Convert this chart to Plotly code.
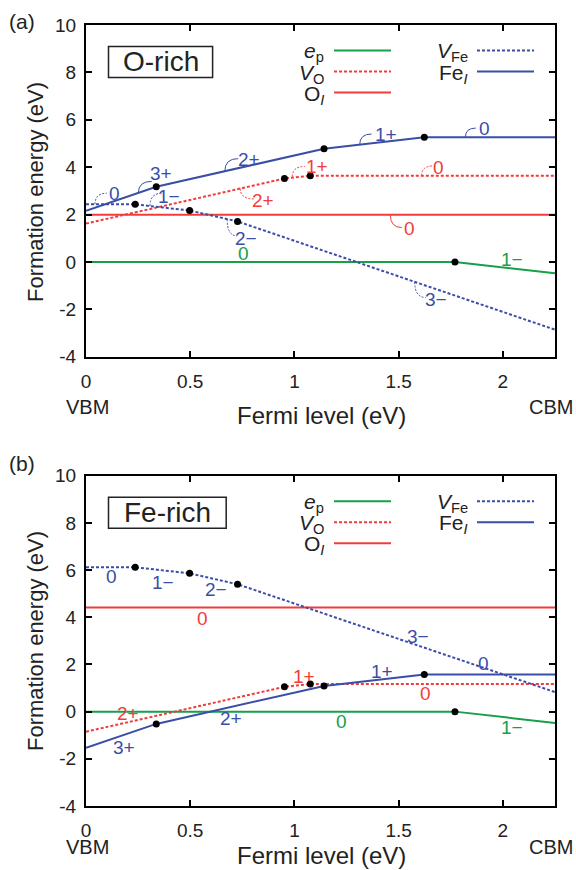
import plotly.graph_objects as go

# ---------------- data ----------------
GREEN = '#16a04a'
RED = '#f23c3c'
BLUE = '#3a4ea8'

ep_x = [0, 1.77, 2.25]
ep_y = {'O': [0, 0, -0.48], 'Fe': [0, 0, -0.48]}
ep_dots = [1]

vo_x = [0, 0.952, 1.076, 2.25]
vo_y = {'O': [1.62, 3.52, 3.64, 3.64], 'Fe': [-0.85, 1.05, 1.17, 1.17]}
vo_dots = [1, 2]

oi_x = [0, 2.25]
oi_y = {'O': [1.99, 1.99], 'Fe': [4.41, 4.41]}

vfe_x = [0, 0.236, 0.497, 0.727, 2.25]
vfe_y = {'O': [2.43, 2.43, 2.17, 1.71, -2.86], 'Fe': [6.12, 6.12, 5.86, 5.40, 0.83]}
vfe_dots = [1, 2, 3]

fei_x = [0, 0.337, 1.142, 1.623, 2.25]
fei_y = {'O': [2.16, 3.17, 4.78, 5.26, 5.26], 'Fe': [-1.53, -0.52, 1.09, 1.57, 1.57]}
fei_dots = [1, 2, 3]

# charge-state labels: (text, x, y, colour key)
labels_O = [
    ('0', 0.135, 2.90, 'B'), ('3+', 0.36, 3.72, 'B'), ('1−', 0.40, 2.78, 'B'),
    ('2+', 0.783, 4.34, 'B'), ('2+', 0.85, 2.60, 'R'), ('1+', 1.11, 4.03, 'R'),
    ('1+', 1.44, 5.39, 'B'), ('0', 1.912, 5.65, 'B'), ('0', 1.69, 4.00, 'R'),
    ('0', 1.553, 1.43, 'R'), ('2−', 0.769, 1.01, 'B'), ('0', 0.757, 0.36, 'G'),
    ('1−', 2.044, 0.10, 'G'), ('3−', 1.679, -1.59, 'B'),
]
labels_Fe = [
    ('0', 0.122, 5.71, 'B'), ('1−', 0.369, 5.46, 'B'), ('2−', 0.624, 5.18, 'B'),
    ('0', 0.559, 3.95, 'R'), ('3−', 1.594, 3.17, 'B'), ('0', 1.908, 2.04, 'B'),
    ('1+', 1.418, 1.71, 'B'), ('1+', 1.048, 1.47, 'R'), ('0', 1.63, 0.76, 'R'),
    ('2+', 0.201, -0.09, 'R'), ('2+', 0.695, -0.30, 'B'), ('0', 1.224, -0.41, 'G'),
    ('1−', 2.044, -0.68, 'G'), ('3+', 0.183, -1.53, 'B'),
]
# leader arcs in panel (a): (x_on_line, y_on_line, x_end, y_end, colour key, dashed)
leaders_O = [
    (0.043, 2.43, 0.10, 2.90, 'B', True),
    (0.251, 2.91, 0.315, 3.40, 'B', False),
    (0.307, 2.36, 0.366, 2.90, 'B', True),
    (0.666, 3.83, 0.73, 4.36, 'B', False),
    (0.74, 3.10, 0.805, 2.66, 'R', True),
    (0.99, 3.60, 1.05, 4.03, 'R', True),
    (1.313, 4.95, 1.37, 5.40, 'B', False),
    (1.82, 5.26, 1.87, 5.65, 'B', False),
    (1.61, 3.64, 1.665, 4.05, 'R', True),
    (1.46, 1.99, 1.515, 1.45, 'R', False),
    (0.677, 1.81, 0.725, 1.10, 'B', True),
    (1.577, -0.84, 1.63, -1.50, 'B', True),
]
COL = {'G': GREEN, 'R': RED, 'B': BLUE}

x_ticks = [0, 0.5, 1, 1.5, 2]
x_ticktext = ['0', '0.5', '1', '1.5', '2']
y_ticks = [-4, -2, 0, 2, 4, 6, 8, 10]
y_ticktext = ['-4', '-2', '0', '2', '4', '6', '8', '10']

# ---------------- layout geometry ----------------
W, H = 576, 870
ML, MR, MT, MB = 86, 21, 25, 64
PW = W - ML - MR
PH = H - MT - MB
TOP_PANEL = (25, 356.7)
BOT_PANEL = (475.7, 806)


def px(x):
    return (x - ML) / PW


def py(y):
    return (H - MB - y) / PH


TXT = '#222222'
FONT = 'Liberation Sans, Arial, Helvetica, sans-serif'

fig = go.Figure()
DASH = '3px,2px'


def add_panel(key, xa, ya):
    series = [
        (ep_x, ep_y[key], GREEN, 'solid', ep_dots),
        (vo_x, vo_y[key], RED, DASH, vo_dots),
        (oi_x, oi_y[key], RED, 'solid', []),
        (vfe_x, vfe_y[key], BLUE, DASH, vfe_dots),
        (fei_x, fei_y[key], BLUE, 'solid', fei_dots),
    ]
    for xs, ys, c, d, dots in series:
        fig.add_trace(go.Scatter(x=xs, y=ys, mode='lines', xaxis=xa, yaxis=ya,
                                 line=dict(color=c, width=2, dash=d),
                                 showlegend=False, hoverinfo='skip'))
    for xs, ys, c, d, dots in series:
        if dots:
            fig.add_trace(go.Scatter(x=[xs[i] for i in dots], y=[ys[i] for i in dots],
                                     mode='markers', xaxis=xa, yaxis=ya,
                                     marker=dict(color='black', size=7),
                                     showlegend=False, hoverinfo='skip'))


add_panel('O', 'x', 'y')
add_panel('Fe', 'x2', 'y2')

annotations = []
shapes = []

for lst, xr, yr in [(labels_O, 'x', 'y'), (labels_Fe, 'x2', 'y2')]:
    for t, x, y, c in lst:
        annotations.append(dict(text=t, x=x, y=y, xref=xr, yref=yr, showarrow=False,
                                font=dict(size=19, color=COL[c], family=FONT)))

for x0, y0, x1, y1, c, dashed in leaders_O:
    shapes.append(dict(type='path', xref='x', yref='y',
                       path=f'M {x0},{y0} Q {x0},{y1} {x1},{y1}',
                       line=dict(color=COL[c], width=1, dash='2px,1.5px' if dashed else 'solid')))

# custom legends and condition boxes
legend_rows = [
    (0, '<i>e</i><sub>p</sub>', GREEN, 'solid', 'L'),
    (1, '<i>V</i><sub>O</sub>', RED, DASH, 'L'),
    (2, 'O<sub><i>I</i></sub>', RED, 'solid', 'L'),
    (0, '<i>V</i><sub>Fe</sub>', BLUE, DASH, 'R'),
    (1, 'Fe<sub><i>I</i></sub>', BLUE, 'solid', 'R'),
]
row_dy = [25.5, 46.5, 67.5]
cols = {'L': (326, 334, 391), 'R': (470, 477, 534)}

for (ptop, pbot), name, lab, vbm_y, fermi_y, ytitle_y, tag_y in [
        (TOP_PANEL, 'O-rich', '(a)', 407, 415, 192, 21.7),
        (BOT_PANEL, 'Fe-rich', '(b)', 846.7, 855, 641, 463)]:
    for r, txt, c, d, side in legend_rows:
        tx, l0, l1 = cols[side]
        yy = ptop + row_dy[r]
        annotations.append(dict(text=txt, x=px(tx), y=py(yy + 2), xref='paper', yref='paper',
                                xanchor='right', yanchor='middle', showarrow=False,
                                font=dict(size=21, color=TXT, family=FONT)))
        shapes.append(dict(type='line', xref='paper', yref='paper',
                           x0=px(l0), x1=px(l1), y0=py(yy), y1=py(yy),
                           line=dict(color=c, width=2, dash=d)))
    bx1 = 212.6 if name == 'O-rich' else 226.2
    shapes.append(dict(type='rect', xref='paper', yref='paper',
                       x0=px(108.5), x1=px(bx1), y0=py(ptop + 21.5), y1=py(ptop + 52.5),
                       line=dict(color=TXT, width=1.5), fillcolor='white'))
    annotations.append(dict(text=name, x=px((108.5 + bx1) / 2), y=py(ptop + 37),
                            xref='paper', yref='paper', showarrow=False,
                            xanchor='center', yanchor='middle',
                            font=dict(size=28, color=TXT, family=FONT)))
    annotations.append(dict(text=lab, x=px(21.7), y=py(tag_y), xref='paper', yref='paper',
                            showarrow=False, xanchor='center', yanchor='middle',
                            font=dict(size=21, color=TXT, family=FONT)))
    annotations.append(dict(text='VBM', x=px(87.5), y=py(vbm_y), xref='paper', yref='paper',
                            showarrow=False, xanchor='center', yanchor='middle',
                            font=dict(size=20, color=TXT, family=FONT)))
    annotations.append(dict(text='CBM', x=px(551), y=py(vbm_y), xref='paper', yref='paper',
                            showarrow=False, xanchor='center', yanchor='middle',
                            font=dict(size=20, color=TXT, family=FONT)))
    annotations.append(dict(text='Fermi level (eV)', x=px(321), y=py(fermi_y),
                            xref='paper', yref='paper', showarrow=False,
                            xanchor='center', yanchor='middle',
                            font=dict(size=24, color=TXT, family=FONT)))
    annotations.append(dict(text='Formation energy (eV)', x=px(35), y=py(ytitle_y),
                            xref='paper', yref='paper', showarrow=False, textangle=-90,
                            xanchor='center', yanchor='middle',
                            font=dict(size=22, color=TXT, family=FONT)))

axis_common = dict(showgrid=False, zeroline=False, showline=True, linecolor='black',
                   linewidth=2, mirror='ticks', ticks='inside', ticklen=6, tickwidth=1.5,
                   tickcolor='black', tickfont=dict(size=19, color=TXT, family=FONT))
xdef = dict(axis_common, range=[0, 2.25], tickvals=x_ticks, ticktext=x_ticktext,
            ticklabelstandoff=6)
ydef = dict(axis_common, range=[-4, 10], tickvals=y_ticks, ticktext=y_ticktext,
            ticklabelstandoff=4)

fig.update_layout(
    width=W, height=H,
    margin=dict(l=ML, r=MR, t=MT, b=MB),
    paper_bgcolor='white', plot_bgcolor='white',
    xaxis=dict(xdef, domain=[0, 1], anchor='y'),
    yaxis=dict(ydef, domain=[py(TOP_PANEL[1]), py(TOP_PANEL[0])], anchor='x'),
    xaxis2=dict(xdef, domain=[0, 1], anchor='y2'),
    yaxis2=dict(ydef, domain=[py(BOT_PANEL[1]), py(BOT_PANEL[0])], anchor='x2'),
    annotations=annotations,
    shapes=shapes,
    font=dict(family=FONT, color=TXT),
)

fig.write_html('out.html', config={'displayModeBar': False},
               post_script="document.body.style.margin='0';document.body.style.overflow='hidden';")
